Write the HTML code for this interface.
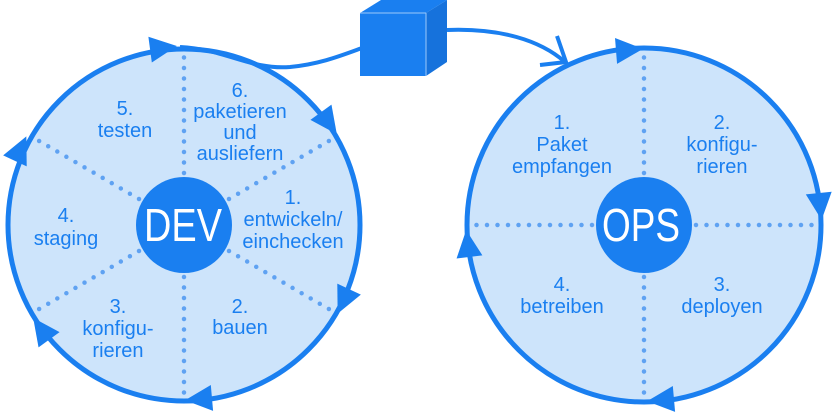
<!DOCTYPE html>
<html><head><meta charset="utf-8"><style>
html,body{margin:0;padding:0;background:#fff;}
svg{display:block;}
text{font-family:"Liberation Sans",sans-serif;fill:#1a7ff0;font-size:20px;text-anchor:middle;}
</style></head><body>
<svg width="835" height="414" viewBox="0 0 835 414" xmlns="http://www.w3.org/2000/svg">
<g stroke="#1a7ff0" stroke-width="5" fill="#cde4fb">
<circle cx="184" cy="225" r="176"/>
<circle cx="644" cy="225" r="177"/>
</g>
<g stroke="#5fa2f2" stroke-width="4.5" stroke-linecap="round" stroke-dasharray="0 10.5">
<line x1="184" y1="173" x2="184" y2="52"/>
<line x1="184" y1="277" x2="184" y2="398"/>
<line x1="229" y1="199" x2="334" y2="138"/>
<line x1="229" y1="251" x2="334" y2="312"/>
<line x1="139" y1="199" x2="34" y2="138"/>
<line x1="139" y1="251" x2="34" y2="312"/>
<line x1="644" y1="173" x2="644" y2="52"/>
<line x1="644" y1="277" x2="644" y2="398"/>
<line x1="696" y1="225" x2="818" y2="225"/>
<line x1="592" y1="225" x2="470" y2="225"/>
</g>
<g fill="none" stroke="#1a7ff0" stroke-width="4">
<path d="M180,47 C225,49 250,70 290,67 C320,64 340,56 362,48"/>
<path d="M447,30 C500,28 540,40 565,62"/>
<polyline points="557,36 566,62 540,65"/>
</g>
<polygon points="360,13 381,0 447,0 426,13" fill="#1a7ff0"/>
<rect x="360" y="13" width="66" height="63" fill="#1a7ff0"/>
<polygon points="426,13 447,0 447,62 426,76" fill="#1672dc"/>
<line x1="360" y1="13" x2="426" y2="13" stroke="#9cc8fa" stroke-width="1"/>
<line x1="426" y1="13" x2="426" y2="76" stroke="#9cc8fa" stroke-width="1"/>
<g fill="#1a7ff0">
<polygon points="-12,-13 15,0 -12,13" transform="translate(162,48) rotate(-7.6)"/>
<polygon points="-12,-13 15,0 -12,13" transform="translate(328,122) rotate(54)"/>
<polygon points="-12,-13 15,0 -12,13" transform="translate(344,300) rotate(115)"/>
<polygon points="-12,-13 15,0 -12,13" transform="translate(200,399) rotate(175)"/>
<polygon points="-12,-13 15,0 -12,13" transform="translate(42,330) rotate(234)"/>
<polygon points="-12,-13 15,0 -12,13" transform="translate(20,150) rotate(-65)"/>
<polygon points="-12,-13 15,0 -12,13" transform="translate(628,50) rotate(-4.5)"/>
<polygon points="-12,-13 15,0 -12,13" transform="translate(820,205) rotate(84)"/>
<polygon points="-12,-13 15,0 -12,13" transform="translate(662,400) rotate(175)"/>
<polygon points="-12,-13 15,0 -12,13" transform="translate(468,245) rotate(263)"/>
</g>
<circle cx="184" cy="225" r="48" fill="#1a7ff0"/>
<circle cx="644" cy="225" r="48" fill="#1a7ff0"/>
<text x="183" y="241" style="fill:#fff;font-size:46px" textLength="78" lengthAdjust="spacingAndGlyphs">DEV</text>
<text x="641" y="241" style="fill:#fff;font-size:46px" textLength="78" lengthAdjust="spacingAndGlyphs">OPS</text>
<text x="125" y="115">5.</text><text x="125" y="137">testen</text>
<text x="240" y="97">6.</text><text x="240" y="118">paketieren</text><text x="240" y="139">und</text><text x="240" y="160">ausliefern</text>
<text x="293" y="204">1.</text><text x="293" y="226">entwickeln/</text><text x="293" y="248">einchecken</text>
<text x="66" y="222">4.</text><text x="66" y="245">staging</text>
<text x="118" y="313">3.</text><text x="118" y="335">konfigu-</text><text x="118" y="357">rieren</text>
<text x="240" y="313">2.</text><text x="240" y="334">bauen</text>
<text x="562" y="129">1.</text><text x="562" y="151">Paket</text><text x="562" y="173">empfangen</text>
<text x="722" y="129">2.</text><text x="722" y="151">konfigu-</text><text x="722" y="173">rieren</text>
<text x="562" y="291">4.</text><text x="562" y="313">betreiben</text>
<text x="722" y="291">3.</text><text x="722" y="313">deployen</text>
</svg>
</body></html>
